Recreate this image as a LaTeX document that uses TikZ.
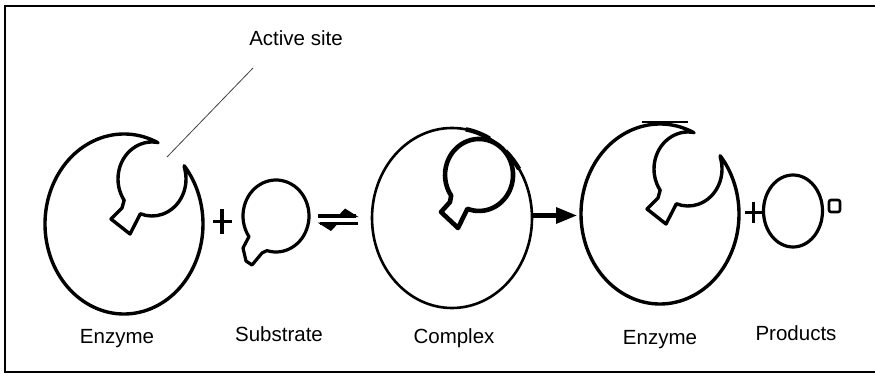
\documentclass[tikz,border=0pt]{standalone}
\usepackage{fontspec}
\setmainfont{Liberation Sans}
\begin{document}
\begin{tikzpicture}[x=1pt,y=1pt,
  lbl/.style={font=\fontsize{20.5}{24}\selectfont, inner sep=0pt, anchor=base},
  outline/.style={line width=3.4pt, line join=round, line cap=round},
  thin outline/.style={line width=2.6pt},
  pointer/.style={line width=0.8pt, black!75},
  bar/.style={line width=3.2pt},
  enzyme/.pic={
    % outer body, then the cavity with its notch
    \draw[outline] (64.6:79 and 90)
      arc[start angle=64.6, end angle=400.3, x radius=79, y radius=90]
      -- (60.34,56.43)
      arc[start angle=18, end angle=-110, x radius=34, y radius=37]
      -- (6,-10) -- (-13,5) -- (-2,16) -- (0.15,23.8)
      arc[start angle=-145, end angle=-280, x radius=34, y radius=37]
      -- cycle;
  },
  substrate/.pic={
    \draw[outline, line width=3.2pt] (-9.1,-34.6)
      arc[start angle=-106, end angle=215, x radius=33, y radius=36]
      -- (-33,-32) -- (-30,-45) -- (-24,-49) -- (-14,-37) -- cycle;
  },
  bound substrate/.pic={
    \draw[outline, line width=4.6pt] (-11.6,-34.8)
      arc[start angle=-110, end angle=215, x radius=34, y radius=36]
      -- (-29,-28) -- (-38,-38) -- (-21,-54) -- cycle;
  }
]
\useasboundingbox (0,0) rectangle (875,-374);

% frame (open on the right)
\draw[line width=1.6pt] (877,-6) -- (5,-6) -- (5,-372) -- (877,-372);

% free enzyme
\pic at (124,-224) {enzyme};
% substrate
\pic at (276,-216) {substrate};
% enzyme-substrate complex
\draw[thin outline] (452,-218) ellipse[x radius=80, y radius=90];
\draw[line width=4.4pt] (452,-218) ++(62:80 and 90)
  arc[start angle=62, end angle=80, x radius=80, y radius=90];
\draw[line width=4.4pt] (452,-218) ++(33:80 and 90)
  arc[start angle=33, end angle=48, x radius=80, y radius=90];
\pic at (479,-174) {bound substrate};
% released enzyme
\pic at (660,-214) {enzyme};
\draw[line width=2pt] (642,-122) -- (688,-122);
% products
\draw[line width=3.2pt] (793,-211) ellipse[x radius=29.5, y radius=36];
\draw[line width=2.6pt, rounded corners=2pt] (829,-200) rectangle (840,-212);

% plus signs
\draw[bar] (212.5,-221.5) -- (231.5,-221.5);
\draw[bar] (222,-209) -- (222,-234);
\draw[bar, line width=3pt] (745,-212.5) -- (762,-212.5);
\draw[bar, line width=3pt] (753.5,-202.5) -- (753.5,-223);

% reversible harpoons
\coordinate (eqL1) at (318,-216);
\coordinate (eqR1) at (356,-216);
\coordinate (eqL2) at (320,-223.5);
\coordinate (eqR2) at (358,-223.5);
\draw[line width=3.4pt] (eqL1) -- (eqR1);
\fill (337,-217) -- (358.5,-217) -- (345,-208.5) -- cycle;
\draw[line width=3.4pt] (eqL2) -- (eqR2);
\fill (317.5,-222.5) -- (339,-222.5) -- (331,-231) -- cycle;

% forward reaction arrow
\coordinate (fwdA) at (533,-215.5);
\coordinate (fwdB) at (560,-215.5);
\draw[line width=4.6pt] (fwdA) -- (fwdB);
\fill (556,-207) -- (576.5,-215.5) -- (556,-224) -- cycle;

% labels
\node[lbl] (siteLabel) at (296,-46) {Active site};
\node[lbl] (enzLabelA) at (117,-343) {Enzyme};
\node[lbl] (subLabel) at (279,-341) {Substrate};
\node[lbl] (cplxLabel) at (454,-343) {Complex};
\node[lbl] (enzLabelB) at (660,-344) {Enzyme};
\node[lbl] (prodLabel) at (796,-340) {Products};

% pointer to the active site
\coordinate (siteTip) at (167,-157);
\coordinate (siteEnd) at (253,-68);
\draw[pointer] (siteTip) -- (siteEnd);
\end{tikzpicture}
\end{document}
